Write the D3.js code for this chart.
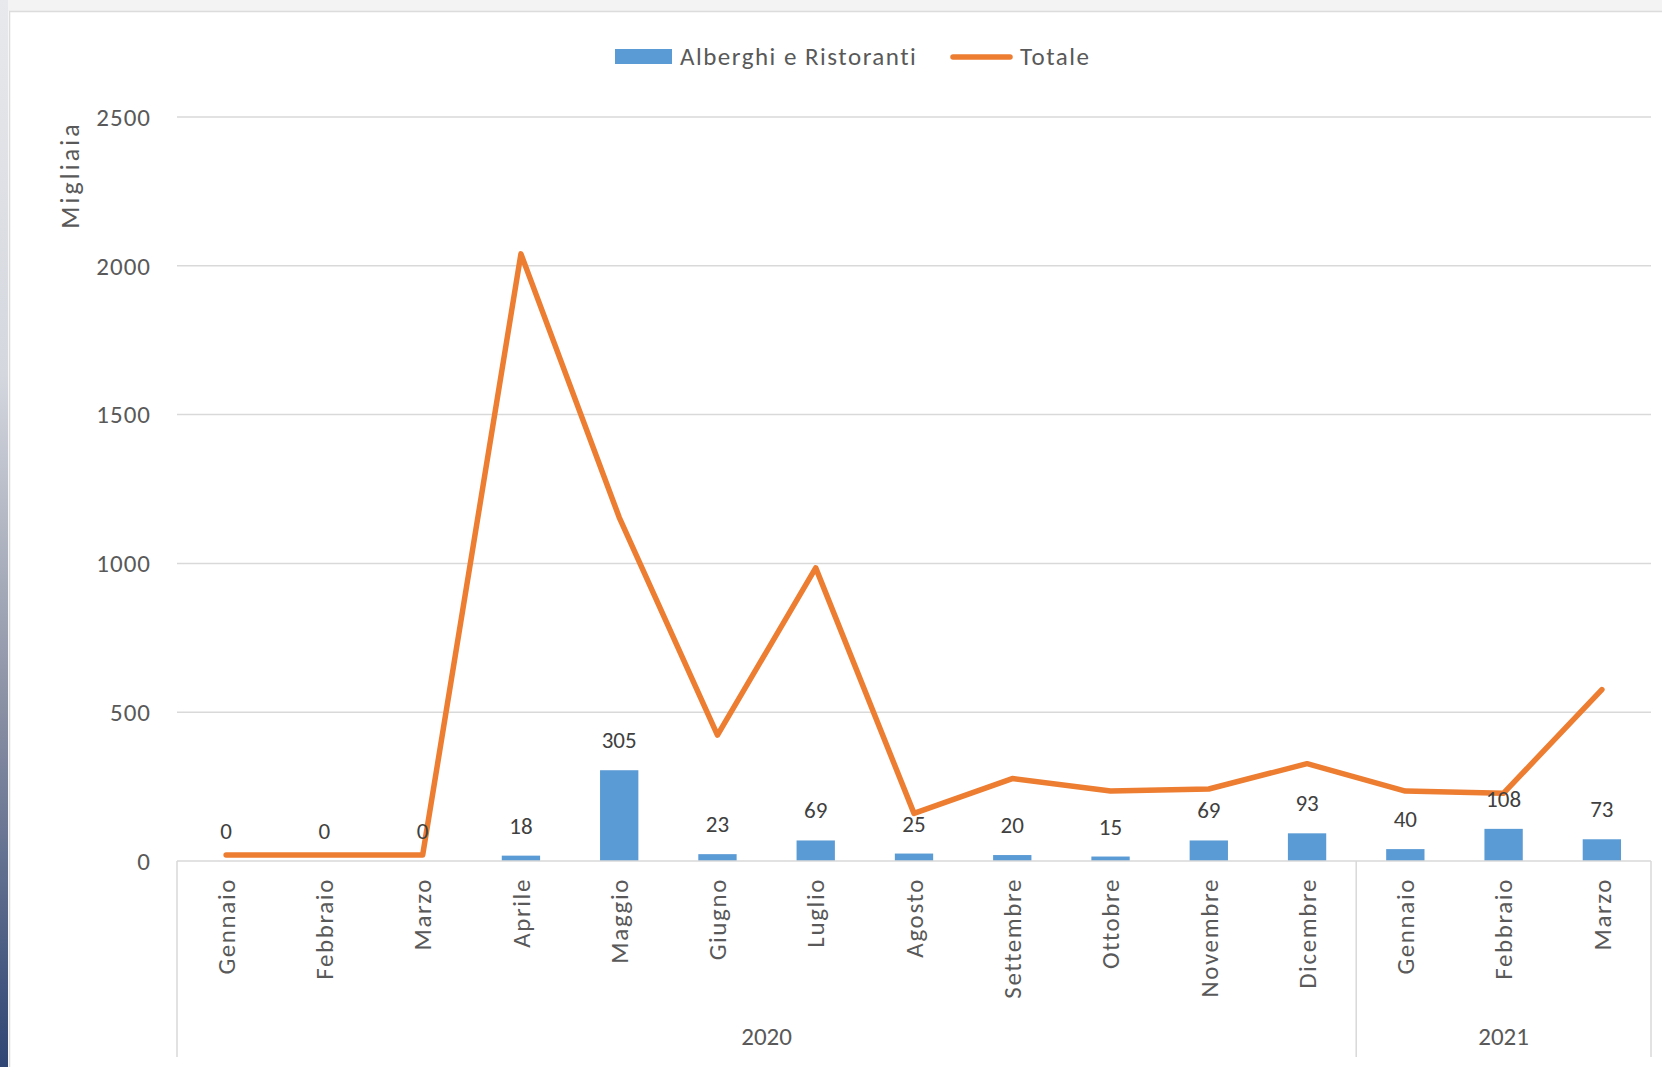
<!DOCTYPE html>
<html>
<head>
<meta charset="utf-8">
<script src="https://cdn.jsdelivr.net/npm/d3@7"></script>
<style>
  body { margin: 0; background: #fff; }
  svg { display: block; }
  text { font-family: Carlito, Calibri, Lato, sans-serif; fill: #595959; }
</style>
</head>
<body>
<svg id="chart" width="1662" height="1067"></svg>
<script>
// dati (migliaia)
const mesi = ["Gennaio","Febbraio","Marzo","Aprile","Maggio","Giugno","Luglio","Agosto","Settembre","Ottobre","Novembre","Dicembre","Gennaio","Febbraio","Marzo"];
const anni = [{label:"2020", from:0, to:12}, {label:"2021", from:12, to:15}];
const alberghi = [0,0,0,18,305,23,69,25,20,15,69,93,40,108,73];
const totale = [20,20,20,2040,1155,423,985,160,277,235,242,327,235,228,576];
const yTicks = [0,500,1000,1500,2000,2500];

const W = 1662, H = 1067;
const plotLeft = 177, plotRight = 1651, plotTop = 117, plotBottom = 861;
const blue = "#5B9BD5", orange = "#ED7D31", grid = "#d9d9d9";

const svg = d3.select("#chart");

// cornice della finestra
const defs = svg.append("defs");
const grad = defs.append("linearGradient").attr("id","side").attr("x1",0).attr("y1",0).attr("x2",0).attr("y2",1);
grad.append("stop").attr("offset","0%").attr("stop-color","#e8e9ec");
grad.append("stop").attr("offset","35%").attr("stop-color","#d4d7de");
grad.append("stop").attr("offset","65%").attr("stop-color","#8d93a6");
grad.append("stop").attr("offset","100%").attr("stop-color","#2f4574");

svg.append("rect").attr("x",0).attr("y",0).attr("width",W).attr("height",11).attr("fill","#f3f3f4");
svg.append("rect").attr("x",0).attr("y",0).attr("width",8).attr("height",H).attr("fill","url(#side)");
svg.append("rect").attr("x",9.5).attr("y",11.5).attr("width",W).attr("height",H)
    .attr("fill","#fff").attr("stroke","#dcdcdc").attr("stroke-width",1.5);

// scale
const x = d3.scaleBand()
    .domain(d3.range(mesi.length))
    .range([plotLeft, plotRight])
    .padding(0);
const y = d3.scaleLinear()
    .domain([0, 2500])
    .range([plotBottom, plotTop]);

const barW = x.bandwidth() * 0.39;

// griglia + etichette asse y
svg.append("g")
    .selectAll("line")
    .data(yTicks.filter(d => d > 0))
    .join("line")
    .attr("x1", plotLeft).attr("x2", plotRight)
    .attr("y1", d => y(d)).attr("y2", d => y(d))
    .attr("stroke", grid).attr("stroke-width", 1.5);

svg.append("g")
    .selectAll("text")
    .data(yTicks)
    .join("text")
    .attr("x", 151)
    .attr("y", d => y(d))
    .attr("dy", "0.35em")
    .attr("text-anchor", "end")
    .style("font-size", "25px")
    .style("letter-spacing", "1px")
    .text(d => d);

// titolo asse y
svg.append("text")
    .attr("transform", "translate(70,175) rotate(-90)")
    .attr("text-anchor", "middle")
    .attr("dy", "0.35em")
    .style("font-size", "26px")
    .style("letter-spacing", "3px")
    .text("Migliaia");

// barre
svg.append("g")
    .selectAll("rect")
    .data(alberghi)
    .join("rect")
    .attr("x", (d, i) => x(i) + (x.bandwidth() - barW) / 2)
    .attr("y", d => y(d))
    .attr("width", barW)
    .attr("height", d => y(0) - y(d))
    .attr("fill", blue);

// asse categorie (multilivello)
svg.append("line")
    .attr("x1", plotLeft).attr("x2", plotRight)
    .attr("y1", plotBottom).attr("y2", plotBottom)
    .attr("stroke", grid).attr("stroke-width", 1.5);

const seps = [0, 12, 15];
svg.append("g")
    .selectAll("line")
    .data(seps)
    .join("line")
    .attr("x1", d => d < mesi.length ? x(d) : plotRight)
    .attr("x2", d => d < mesi.length ? x(d) : plotRight)
    .attr("y1", plotBottom).attr("y2", 1057)
    .attr("stroke", grid).attr("stroke-width", 1.5);

svg.append("g")
    .selectAll("text")
    .data(mesi)
    .join("text")
    .attr("transform", (d, i) => "translate(" + (x(i) + x.bandwidth() / 2) + ",878) rotate(-90)")
    .attr("text-anchor", "end")
    .attr("dy", "0.35em")
    .style("font-size", "25px")
    .style("letter-spacing", "1.6px")
    .text(d => d);

svg.append("g")
    .selectAll("text")
    .data(anni)
    .join("text")
    .attr("x", d => (x(d.from) + (d.to < mesi.length ? x(d.to) : plotRight)) / 2)
    .attr("y", 1036)
    .attr("dy", "0.35em")
    .attr("text-anchor", "middle")
    .style("font-size", "25px")
    .text(d => d.label);

// linea Totale
const line = d3.line()
    .x((d, i) => x(i) + x.bandwidth() / 2)
    .y(d => y(d));

svg.append("path")
    .datum(totale)
    .attr("d", line)
    .attr("fill", "none")
    .attr("stroke", orange)
    .attr("stroke-width", 5.5)
    .attr("stroke-linejoin", "round")
    .attr("stroke-linecap", "round");

// etichette dati
svg.append("g")
    .selectAll("text")
    .data(alberghi)
    .join("text")
    .attr("x", (d, i) => x(i) + x.bandwidth() / 2)
    .attr("y", d => y(d) - 22)
    .attr("text-anchor", "middle")
    .style("font-size", "23px")
    .style("fill", "#404040")
    .text(d => d);

// legenda
const leg = svg.append("g");
leg.append("rect").attr("x", 615).attr("y", 49).attr("width", 57).attr("height", 15).attr("fill", blue);
leg.append("text").attr("x", 680).attr("y", 56).attr("dy", "0.35em")
    .style("font-size", "25px").style("letter-spacing", "1.5px").text("Alberghi e Ristoranti");
leg.append("line").attr("x1", 953).attr("x2", 1010).attr("y1", 57).attr("y2", 57)
    .attr("stroke", orange).attr("stroke-width", 5.5).attr("stroke-linecap", "round");
leg.append("text").attr("x", 1020).attr("y", 56).attr("dy", "0.35em")
    .style("font-size", "25px").style("letter-spacing", "1.5px").text("Totale");
</script>
</body>
</html>
